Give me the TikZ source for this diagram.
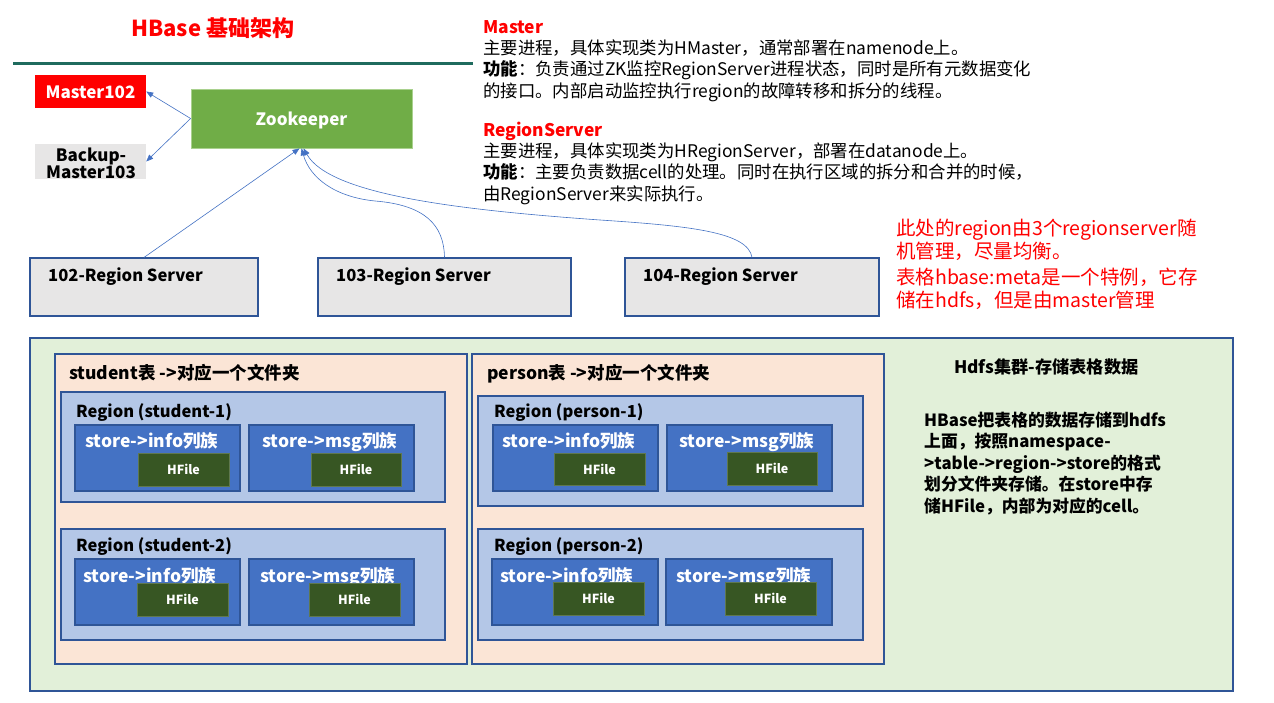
\documentclass[tikz,border=0pt]{standalone}
\usepackage{fontspec}
\setmainfont{Noto Sans CJK SC}
\usetikzlibrary{arrows.meta,fit}
\definecolor{bdr}{HTML}{2F5597}
\definecolor{gry}{HTML}{E7E6E6}
\definecolor{zkg}{HTML}{70AD47}
\definecolor{zkb}{HTML}{A9D18E}
\definecolor{hdfsg}{HTML}{E2F0D9}
\definecolor{peach}{HTML}{FBE5D6}
\definecolor{regb}{HTML}{B4C7E7}
\definecolor{stb}{HTML}{4472C4}
\definecolor{hfg}{HTML}{375623}
\definecolor{rulec}{HTML}{1F6B5E}
\definecolor{conc}{HTML}{4472C4}
\newcommand{\fs}[1]{\fontsize{#1}{#1}\selectfont}
\newcommand{\rbox}[6]{\node[#1,fit={(#3,#4)(#5,#6)}] (#2) {};}
\begin{document}
\begin{tikzpicture}[x=1pt,y=-1pt,
  bx/.style={draw=bdr,line width=1.1pt,inner sep=0pt},
  gbox/.style={bx,fill=gry},
  hdfsbox/.style={bx,fill=hdfsg},
  tblbox/.style={bx,fill=peach},
  regbox/.style={bx,fill=regb},
  stbox/.style={bx,fill=stb},
  hfbox/.style={inner sep=0pt,fill=hfg,draw=hfg!80!white,line width=0.5pt},
  lbl/.style={anchor=base west,inner sep=0pt,font=\bfseries\fs{16.6}},
  wlbl/.style={lbl,text=white,font=\bfseries\fs{17.5}},
  desc/.style={anchor=base west,inner sep=0pt,font=\fs{17.4}},
  note/.style={anchor=base west,inner sep=0pt,font=\fs{19.5},text=red},
  hd/.style={anchor=base west,inner sep=0pt,font=\bfseries\fs{16.8}},
  conn/.style={draw=conc,line width=0.6pt},
  tip/.style={-{Triangle[length=7pt,width=5.5pt]}}
]
\useasboundingbox (0,0) rectangle (1274,703);
\fill[white] (0,0) rectangle (1274,703);

% title and rule
\node[anchor=base west,inner sep=0pt,text=red,font=\bfseries\fs{22}] (title) at (131,37) {HBase 基础架构};
\draw[rulec,line width=3pt] (13,63.5) -- (473,63.5);

% master / backup / zookeeper
\rbox{inner sep=0pt,fill=red}{m102}{35}{75}{146}{108}
\node[text=white,font=\bfseries\fs{17}] (m102t) at ([yshift=-0.5pt]m102.center) {Master102};
\rbox{inner sep=0pt,fill=gry}{bk}{35}{144}{146}{179}
\node[align=center,font=\bfseries\fs{17},inner sep=0pt] (bkt) at (91,163) {\fontsize{17}{20}\selectfont Backup-\\Master103};
\rbox{inner sep=0pt,fill=zkg,draw=zkb,line width=0.8pt}{zk}{191}{89}{412}{148}
\node[text=white,font=\bfseries\fs{17}] (zkt) at ([yshift=-1.5pt]zk.center) {Zookeeper};

\draw[conn,tip] (zk.west) -- (m102.east);
\draw[conn,tip] (zk.west) -- (bk.east);

% region servers
\rbox{gbox}{rs102}{30}{258}{258}{316}
\rbox{gbox}{rs103}{318}{258}{571}{316}
\rbox{gbox}{rs104}{625}{258}{879}{316}
\node[lbl] (rs102t) at (48,282) {102-Region Server};
\node[lbl] (rs103t) at (336,282) {103-Region Server};
\node[lbl] (rs104t) at (643,282) {104-Region Server};

\draw[conn,tip] (rs102.north) -- ([xshift=-2pt]zk.south);
\draw[conn,tip] (rs103.north) .. controls (444,225) and (425,205) .. (375,201) .. controls (335,197) and (310,178) .. (zk.south);
\draw[conn,tip] (rs104.north) .. controls (748,232) and (690,226) .. (600,220) .. controls (460,210) and (330,195) .. ([xshift=2pt]zk.south);

% description
\node[desc,text=red,font=\bfseries\fs{17.4}] (d1) at (483,34) {Master};
\node[desc] (d2) at (483,55) {主要进程，具体实现类为HMaster，通常部署在namenode上。};
\node[desc] (d3) at (483,76) {\textbf{功能}：负责通过ZK监控RegionServer进程状态，同时是所有元数据变化};
\node[desc] (d4) at (483,98) {的接口。内部启动监控执行region的故障转移和拆分的线程。};
\node[desc,text=red,font=\bfseries\fs{17.4}] (d5) at (483,137) {RegionServer};
\node[desc] (d6) at (483,158) {主要进程，具体实现类为HRegionServer，部署在datanode上。};
\node[desc] (d7) at (483,179) {\textbf{功能}：主要负责数据cell的处理。同时在执行区域的拆分和合并的时候，};
\node[desc] (d8) at (483,201) {由RegionServer来实际执行。};

% red note
\node[note] (n1) at (896,236) {此处的region由3个regionserver随};
\node[note] (n2) at (896,259) {机管理，尽量均衡。};
\node[note] (n3) at (896,284) {表格hbase:meta是一个特例，它存};
\node[note] (n4) at (896,307) {储在hdfs，但是由master管理};

% hdfs cluster
\rbox{hdfsbox}{hdfs}{30}{338}{1233}{691}
\node[hd,font=\bfseries\fs{17.2}] (h0) at (954,373) {Hdfs集群-存储表格数据};
\node[hd] (h1) at (924,426) {HBase把表格的数据存储到hdfs};
\node[hd] (h2) at (924,447) {上面，按照namespace-};
\node[hd] (h3) at (924,469) {>table->region->store的格式};
\node[hd] (h4) at (924,490) {划分文件夹存储。在store中存};
\node[hd] (h5) at (924,512) {储HFile，内部为对应的cell。};

% student table
\rbox{tblbox}{tstu}{55}{354}{467}{664}
\node[lbl,font=\bfseries\fs{17.5}] (tstut) at (69,379) {student表 ->对应一个文件夹};
\rbox{regbox}{rs1}{61}{392}{445}{502}
\node[lbl,font=\bfseries\fs{16.5}] (rs1t) at (76,417) {Region (student-1)};
\rbox{stbox}{s1i}{75}{425}{240}{491}
\rbox{stbox}{s1m}{249}{425}{414}{491}
\node[wlbl] (s1it) at (85,447) {store->info列族};
\node[wlbl] (s1mt) at (262,447) {store->msg列族};
\rbox{hfbox}{s1ih}{138}{453}{229}{486}
\rbox{hfbox}{s1mh}{311}{453}{401}{486}
\node[text=white,font=\bfseries\fs{12.5}] (s1iht) at (s1ih.center) {HFile};
\node[text=white,font=\bfseries\fs{12.5}] (s1mht) at (s1mh.center) {HFile};

\rbox{regbox}{rs2}{61}{529}{445}{640}
\node[lbl,font=\bfseries\fs{16.5}] (rs2t) at (76,551) {Region (student-2)};
\rbox{stbox}{s2i}{75}{559}{240}{625}
\rbox{stbox}{s2m}{249}{559}{414}{625}
\node[wlbl] (s2it) at (83,582) {store->info列族};
\node[wlbl] (s2mt) at (260,582) {store->msg列族};
\rbox{hfbox}{s2ih}{137}{583}{228}{616}
\rbox{hfbox}{s2mh}{309}{583}{400}{616}
\node[text=white,font=\bfseries\fs{12.5}] (s2iht) at (s2ih.center) {HFile};
\node[text=white,font=\bfseries\fs{12.5}] (s2mht) at (s2mh.center) {HFile};

% person table
\rbox{tblbox}{tper}{472}{354}{884}{664}
\node[lbl,font=\bfseries\fs{17.5}] (tpert) at (487,379) {person表 ->对应一个文件夹};
\rbox{regbox}{rp1}{478}{396}{863}{506}
\node[lbl,font=\bfseries\fs{16.5}] (rp1t) at (494,417) {Region (person-1)};
\rbox{stbox}{p1i}{493}{425}{658}{491}
\rbox{stbox}{p1m}{667}{425}{832}{491}
\node[wlbl] (p1it) at (502,447) {store->info列族};
\node[wlbl] (p1mt) at (679,447) {store->msg列族};
\rbox{hfbox}{p1ih}{554}{453}{645}{485}
\rbox{hfbox}{p1mh}{727}{452}{817}{485}
\node[text=white,font=\bfseries\fs{12.5}] (p1iht) at (p1ih.center) {HFile};
\node[text=white,font=\bfseries\fs{12.5}] (p1mht) at (p1mh.center) {HFile};

\rbox{regbox}{rp2}{478}{529}{863}{640}
\node[lbl,font=\bfseries\fs{16.5}] (rp2t) at (494,551) {Region (person-2)};
\rbox{stbox}{p2i}{492}{559}{658}{625}
\rbox{stbox}{p2m}{666}{559}{832}{625}
\node[wlbl] (p2it) at (500,582) {store->info列族};
\node[wlbl] (p2mt) at (676,582) {store->msg列族};
\rbox{hfbox}{p2ih}{553}{582}{644}{615}
\rbox{hfbox}{p2mh}{725}{582}{816}{615}
\node[text=white,font=\bfseries\fs{12.5}] (p2iht) at (p2ih.center) {HFile};
\node[text=white,font=\bfseries\fs{12.5}] (p2mht) at (p2mh.center) {HFile};
\end{tikzpicture}
\end{document}
